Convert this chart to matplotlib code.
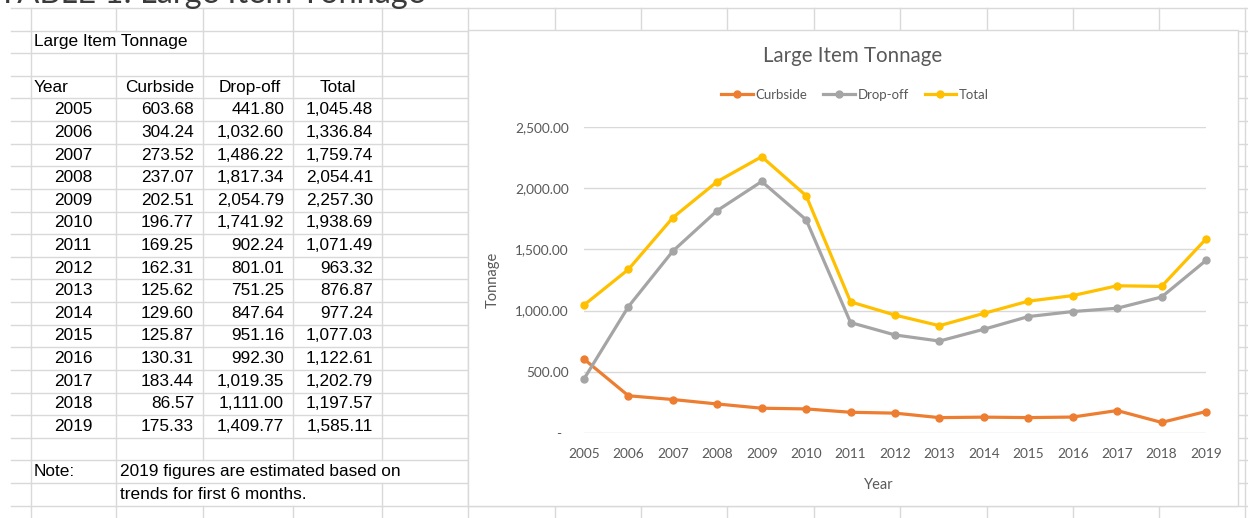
import numpy as np
import matplotlib
matplotlib.use("Agg")
import matplotlib.pyplot as plt
from matplotlib.patches import Rectangle
from matplotlib.ticker import FuncFormatter

# data (read from the sheet)
years = [2005, 2006, 2007, 2008, 2009, 2010, 2011, 2012, 2013, 2014, 2015, 2016, 2017, 2018, 2019]
curbside = [603.68, 304.24, 273.52, 237.07, 202.51, 196.77, 169.25, 162.31, 125.62, 129.60,
            125.87, 130.31, 183.44, 86.57, 175.33]
dropoff = [441.80, 1032.60, 1486.22, 1817.34, 2054.79, 1741.92, 902.24, 801.01, 751.25, 847.64,
           951.16, 992.30, 1019.35, 1111.00, 1409.77]
total = [1045.48, 1336.84, 1759.74, 2054.41, 2257.30, 1938.69, 1071.49, 963.32, 876.87, 977.24,
         1077.03, 1122.61, 1202.79, 1197.57, 1585.11]
yticks = [0, 500, 1000, 1500, 2000, 2500]

W, H = 1248, 518
fig = plt.figure(figsize=(W / 100, H / 100), dpi=100)
fig.patch.set_facecolor('white')

# ---- spreadsheet background (pixel coords) ----
ax0 = fig.add_axes([0, 0, 1, 1])
ax0.set_xlim(0, W)
ax0.set_ylim(H, 0)
ax0.axis('off')

gcol = '#d9d9d9'
row_h = 22.62
row_y = [8 + row_h * k for k in range(23)]
col_x = [31, 116, 203, 293, 382, 468, 555, 641, 727, 814, 900, 987, 1073, 1159, 1245]
hidden = {(116, 1), (203, 20), (293, 20), (382, 20), (203, 21), (293, 21)}

for y in row_y:
    ax0.plot([11, W], [y, y], color=gcol, lw=1, zorder=1)
bounds = row_y + [H]
for x in col_x:
    for r in range(len(bounds) - 1):
        if (x, r) in hidden:
            continue
        ax0.plot([x, x], [bounds[r], bounds[r + 1]], color=gcol, lw=1, zorder=1)

def rc(r):
    return 8 + row_h * (r + 0.5)

tf = dict(family=['Liberation Sans', 'DejaVu Sans'], fontsize=12.4, color='black', va='center', zorder=3)
ax0.text(34, rc(1), 'Large Item Tonnage', ha='left', **tf)
ax0.text(34, rc(3), 'Year', ha='left', **tf)
ax0.text(160, rc(3), 'Curbside', ha='center', **tf)
ax0.text(250, rc(3), 'Drop-off', ha='center', **tf)
ax0.text(338, rc(3), 'Total', ha='center', **tf)
for i, yr in enumerate(years):
    r = 4 + i
    ax0.text(73, rc(r), str(yr), ha='center', **tf)
    ax0.text(194, rc(r), '{:,.2f}'.format(curbside[i]), ha='right', **tf)
    ax0.text(284, rc(r), '{:,.2f}'.format(dropoff[i]), ha='right', **tf)
    ax0.text(373, rc(r), '{:,.2f}'.format(total[i]), ha='right', **tf)
ax0.text(34, rc(20), 'Note:', ha='left', **tf)
ax0.text(120, rc(20), '2019 figures are estimated based on', ha='left', **tf)
ax0.text(120, rc(21), 'trends for first 6 months.', ha='left', **tf)

# cut-off heading at the very top
ax0.text(-2, 3, 'TABLE 1: Large Item Tonnage', ha='left', va='baseline',
         family=['Lato', 'DejaVu Sans'], fontsize=23.5, color='#3a3a3a', zorder=3)

# chart box
ax0.add_patch(Rectangle((468, 30), 770, 476, facecolor='white', edgecolor=gcol, lw=1, zorder=2))

# ---- the chart ----
cfont = ['Lato', 'DejaVu Sans']
tcol = '#595959'
x0, x1, yb, yt = 584, 1206, 433, 127
ax = fig.add_axes([x0 / W, 1 - yb / H, (x1 - x0) / W, (yb - yt) / H])
ax.patch.set_alpha(0)

c_or, c_gr, c_ye = '#ed7d31', '#a5a5a5', '#ffc000'
ax.plot(years, curbside, color=c_or, lw=2.3, marker='o', ms=5, label='Curbside', clip_on=False, zorder=3)
ax.plot(years, dropoff, color=c_gr, lw=2.3, marker='o', ms=5, label='Drop-off', clip_on=False, zorder=3)
ax.plot(years, total, color=c_ye, lw=2.3, marker='o', ms=5, label='Total', clip_on=False, zorder=3)

ax.set_xlim(years[0], years[-1])
ax.set_ylim(0, 2500)
ax.set_xticks(years)
ax.set_yticks(yticks)
ax.yaxis.set_major_formatter(FuncFormatter(lambda v, p: '-  ' if v == 0 else '{:,.2f}'.format(v)))
ax.grid(axis='y', color=gcol, lw=1)
ax.set_axisbelow(True)
for s in ax.spines.values():
    s.set_visible(False)
ax.tick_params(length=0, colors=tcol, labelsize=9.8)
ax.tick_params(axis='y', pad=11)
ax.tick_params(axis='x', pad=11)
for lab in ax.get_xticklabels() + ax.get_yticklabels():
    lab.set_family(cfont)

ax.set_ylabel('Tonnage', family=cfont, fontsize=10.5, color=tcol)
ax.yaxis.set_label_coords((500 - x0) / (x1 - x0), 0.5)
ax.set_xlabel('Year', family=cfont, fontsize=10.5, color=tcol)
ax.xaxis.set_label_coords((879 - x0) / (x1 - x0), (yb - 478) / (yb - yt))

fig.text(853 / W, 1 - 56 / H, 'Large Item Tonnage', ha='center', va='center',
         family=cfont, fontsize=14.8, color=tcol)
leg = fig.legend(loc='center', bbox_to_anchor=(855 / W, 1 - 95 / H), ncol=3, frameon=False,
                 handlelength=2.4, handletextpad=0.2, columnspacing=1.2,
                 prop={'family': cfont, 'size': 9.5})
for t in leg.get_texts():
    t.set_color(tcol)

fig.savefig('out.png', dpi=100)
